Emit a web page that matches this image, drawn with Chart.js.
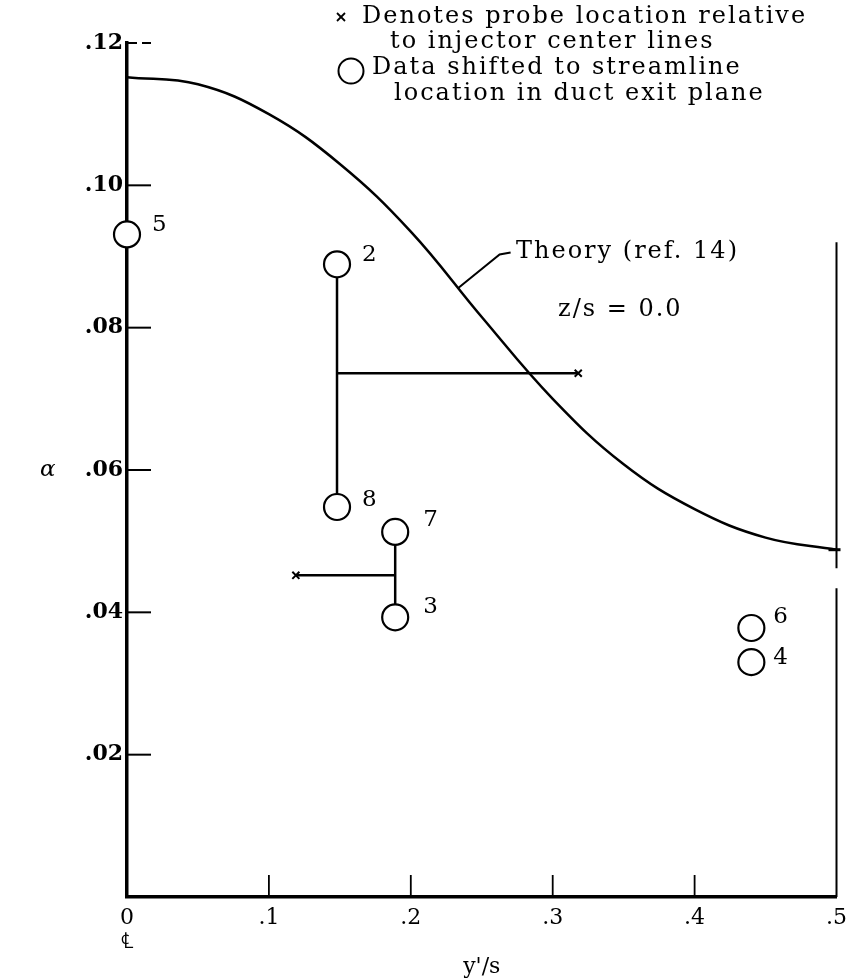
<!DOCTYPE html>
<html>
<head>
<meta charset="utf-8">
<script src="https://cdn.jsdelivr.net/npm/chart.js@4.4.1/dist/chart.umd.min.js"></script>
<style>
  html, body { margin: 0; padding: 0; background: #fff; }
  #wrap { width: 856px; height: 980px; position: relative; }
</style>
</head>
<body>
<div id="wrap"><canvas id="alphaChart"></canvas></div>
<script>
// Theory (ref. 14), z/s = 0.0
const theoryX = [0, 0.05, 0.10, 0.15, 0.20, 0.25, 0.30, 0.35, 0.40, 0.45, 0.50];
const theoryAlpha = [0.1152, 0.1142, 0.1100, 0.1030, 0.0935, 0.0815, 0.0700, 0.0608, 0.0545, 0.0505, 0.0488];

// runs, shifted to streamline location in duct exit plane
const runLabels = ['5', '2', '8', '7', '3', '6', '4'];
const runX = [0, 0.148, 0.148, 0.189, 0.189, 0.440, 0.440];
const runAlpha = [0.0931, 0.0889, 0.0548, 0.0513, 0.0393, 0.0378, 0.0330];

// probe locations relative to injector center lines
const probeX = [0.318, 0.119];
const probeAlpha = [0.0736, 0.0452];
const stemX = [0.148, 0.189];
const stemTop = [0.0889, 0.0513];
const stemBottom = [0.0548, 0.0393];

// duct exit boundary at y'/s = .5
const exitX = 0.5;
const exitSpans = [[0, 0.0434], [0.0462, 0.0920]];

const xTicks = [0, 0.1, 0.2, 0.3, 0.4, 0.5];
const yTicks = [0.02, 0.04, 0.06, 0.08, 0.10, 0.12];

const serif = 'DejaVu Serif';

// number label offsets next to each circle (px)
const labelOffset = {
    '5': [25, -9], '2': [25, -9], '8': [25, -7], '7': [28, -12],
    '3': [28, -10], '6': [22, -11], '4': [22, -4]
};

function seg(x1, y1, x2, y2) {
    return [{ x: x1, y: y1 }, { x: x2, y: y2 }];
}

let datasets = [];

// circles first so they sit on top of the lead lines
datasets.push({
    type: 'scatter',
    data: runX.map((x, i) => ({ x: x, y: runAlpha[i] })),
    pointStyle: 'circle',
    pointRadius: 13,
    pointBorderWidth: 2.2,
    pointBorderColor: '#000',
    pointBackgroundColor: '#fff',
    clip: false
});

datasets.push({
    type: 'scatter',
    data: probeX.map((x, i) => ({ x: x, y: probeAlpha[i] })),
    pointStyle: 'crossRot',
    pointRadius: 5,
    pointBorderWidth: 2,
    pointBorderColor: '#000'
});

for (let i = 0; i < stemX.length; i++) {
    datasets.push({
        type: 'line',
        data: seg(stemX[i], stemTop[i], stemX[i], stemBottom[i]),
        borderColor: '#000', borderWidth: 2.5, pointRadius: 0
    });
    datasets.push({
        type: 'line',
        data: seg(stemX[i], probeAlpha[i], probeX[i], probeAlpha[i]),
        borderColor: '#000', borderWidth: 2.5, pointRadius: 0
    });
}

for (let span of exitSpans) {
    datasets.push({
        type: 'line',
        data: seg(exitX, span[0], exitX, span[1]),
        borderColor: '#000', borderWidth: 2, pointRadius: 0, clip: false
    });
}

datasets.push({
    type: 'line',
    data: theoryX.map((x, i) => ({ x: x, y: theoryAlpha[i] })),
    borderColor: '#000',
    borderWidth: 2.5,
    pointRadius: 0,
    tension: 0.4,
    clip: false
});

const annotate = {
    id: 'annotate',
    afterDraw(chart) {
        const { ctx, chartArea, scales } = chart;
        const x = scales.x, y = scales.y;
        const line = (x1, y1, x2, y2) => {
            ctx.beginPath(); ctx.moveTo(x1, y1); ctx.lineTo(x2, y2); ctx.stroke();
        };
        ctx.save();
        ctx.strokeStyle = '#000';
        ctx.fillStyle = '#000';

        // tick marks pointing into the plot
        ctx.lineWidth = 2;
        for (let v of yTicks) {
            const py = y.getPixelForValue(v);
            ctx.setLineDash(v === 0.12 ? [9, 5] : []);
            line(chartArea.left + 1, py, chartArea.left + 24, py);
        }
        ctx.setLineDash([]);
        ctx.lineWidth = 1.8;
        for (let v of xTicks.slice(1, -1)) {
            const px = x.getPixelForValue(v);
            line(px, chartArea.bottom, px, chartArea.bottom - 22);
        }

        // short stub where the theory curve meets the exit plane
        const endY = y.getPixelForValue(theoryAlpha[theoryAlpha.length - 1]);
        ctx.lineWidth = 3;
        line(x.getPixelForValue(exitX) - 8, endY, x.getPixelForValue(exitX) + 4, endY);

        ctx.textAlign = 'left';
        ctx.textBaseline = 'middle';

        // run numbers
        ctx.font = '23px "' + serif + '"';
        runLabels.forEach((lab, i) => {
            const off = labelOffset[lab];
            ctx.fillText(lab, x.getPixelForValue(runX[i]) + off[0], y.getPixelForValue(runAlpha[i]) + off[1]);
        });

        // theory leader and text
        const lx = x.getPixelForValue(0.233);
        const ly = y.getPixelForValue(0.0855);
        ctx.lineWidth = 2;
        ctx.beginPath();
        ctx.moveTo(lx, ly);
        ctx.lineTo(lx + 42, ly - 34);
        ctx.lineTo(lx + 53, ly - 36);
        ctx.stroke();

        ctx.font = '24px "' + serif + '"';
        ctx.letterSpacing = '2px';
        ctx.fillText('Theory (ref. 14)', 516, 252);
        ctx.fillText('z/s = 0.0', 558, 310);

        // key
        ctx.fillText('Denotes probe location relative', 362, 17);
        ctx.fillText('to injector center lines', 390, 42);
        ctx.fillText('Data shifted to streamline', 372, 68);
        ctx.fillText('location in duct exit plane', 394, 94);
        ctx.letterSpacing = '0px';
        ctx.lineWidth = 1.8;
        line(337, 13, 345, 21);
        line(345, 13, 337, 21);
        ctx.lineWidth = 2;
        ctx.beginPath();
        ctx.arc(351, 71, 12.5, 0, Math.PI * 2);
        ctx.stroke();

        // alpha axis label
        ctx.font = 'italic 23px "' + serif + '"';
        ctx.fillText('\u03b1', 40, y.getPixelForValue(0.06));
        ctx.restore();
    }
};

const chart = new Chart(document.getElementById('alphaChart'), {
    type: 'scatter',
    data: { datasets: datasets },
    options: {
        responsive: true,
        maintainAspectRatio: false,
        animation: false,
        layout: { padding: { top: 43, right: 9, left: 0, bottom: 0 } },
        plugins: {
            legend: { display: false },
            tooltip: { enabled: false }
        },
        scales: {
            x: {
                type: 'linear',
                min: 0,
                max: 0.5,
                afterBuildTicks: (s) => { s.ticks = xTicks.map(v => ({ value: v })); },
                afterFit: (s) => { s.height = 83; },
                grid: { display: false, drawTicks: false },
                border: { display: true, width: 3.5, color: '#000' },
                ticks: {
                    color: '#000',
                    padding: 9,
                    font: { family: serif, size: 22, lineHeight: 1.1 },
                    maxRotation: 0,
                    callback: (v) => v === 0 ? ['0', '\u2104'] : '.' + Math.round(v * 10)
                },
                title: {
                    display: true,
                    text: "y'/s",
                    color: '#000',
                    font: { family: serif, size: 22 },
                    padding: { top: 0, bottom: 0 }
                }
            },
            y: {
                type: 'linear',
                min: 0,
                max: 0.12,
                afterBuildTicks: (s) => { s.ticks = yTicks.map(v => ({ value: v })); },
                afterFit: (s) => { s.width = 127; },
                grid: { display: false, drawTicks: false },
                border: { display: true, width: 3.5, color: '#000' },
                ticks: {
                    color: '#000',
                    padding: 4,
                    font: { family: serif, size: 22, weight: 'bold' },
                    callback: (v) => '.' + String(Math.round(v * 100)).padStart(2, '0')
                }
            }
        }
    },
    plugins: [annotate]
});
</script>
</body>
</html>
